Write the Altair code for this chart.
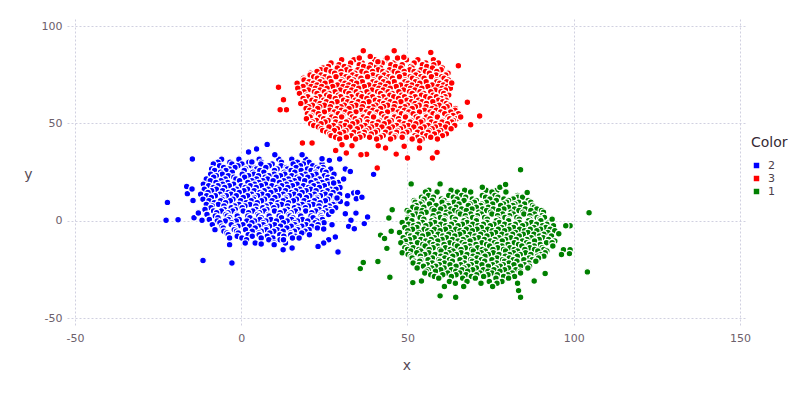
import altair as alt
import pandas as pd

series_names = ["2", "3", "1"]
series_colors = ["#0000ff", "#ff0000", "#008000"]
x_ticks = [-50, 0, 50, 100, 150]
y_ticks = [-50, 0, 50, 100]

blue_rows = [
    (31.6, [-5.9, -0.7, 5.4, 11.3, 15.2, 19.4]),
    (30.0, [-7.0, -3.4, 2.3, 6.0, 12.1, 16.9, 20.4]),
    (29.1, [-8.4, -2.8, 0.2, 5.9, 9.3, 15.6, 18.7, 24.3]),
    (28.2, [-6.5, -1.0, 3.0, 8.4, 12.0, 17.8, 21.5]),
    (27.3, [-5.3, -1.9, 4.2, 7.4, 13.6, 16.5, 22.8, 24.6]),
    (26.6, [-8.9, -3.6, 1.3, 4.6, 10.8, 13.9, 19.9, 23.3, 26.9]),
    (25.8, [-8.0, -4.6, 0.9, 5.6, 10.0, 15.0, 18.0, 21.0, 24.5]),
    (24.9, [-6.2, -2.7, 3.5, 6.8, 12.9, 16.1, 22.4, 25.5]),
    (23.9, [-9.2, -5.7, 0.3, 3.8, 9.9, 13.1, 19.3, 22.5, 27.9]),
    (23.1, [-7.5, -3.9, 2.2, 5.2, 8.3, 11.8, 15.2, 18.0, 21.2, 25.0]),
    (22.3, [-8.3, -2.2, 1.0, 7.2, 10.5, 16.8, 20.0, 26.1]),
    (21.4, [-10.5, -4.8, -1.6, 4.6, 7.9, 14.2, 17.4, 23.5, 27.3]),
    (20.6, [-9.3, -6.1, -0.5, 3.2, 6.5, 9.6, 12.8, 16.0, 19.1, 22.3, 25.8]),
    (19.7, [-7.6, -4.1, 2.0, 5.3, 11.5, 14.7, 21.0, 24.3, 29.2]),
    (18.8, [-11.4, -5.6, -2.3, 4.0, 7.3, 13.6, 16.8, 23.0, 26.4]),
    (18.0, [-9.8, -7.0, -3.6, 0.0, 2.7, 6.0, 9.2, 12.2, 15.4, 18.7, 21.8, 25.0, 28.0]),
    (17.1, [-8.4, -5.0, 1.2, 4.5, 10.8, 14.0, 20.2, 23.5, 29.7]),
    (16.2, [-11.1, -7.5, -1.4, 1.9, 8.1, 11.4, 17.6, 20.9, 27.0, 28.5]),
    (15.4, [-8.9, -5.6, -2.4, 0.8, 3.9, 6.9, 10.2, 13.3, 16.4, 19.5, 22.5, 25.9]),
    (14.5, [-10.0, -3.9, -0.6, 5.6, 8.9, 15.1, 18.3, 24.5, 27.6]),
    (13.6, [-12.2, -6.4, -3.1, 3.1, 6.3, 12.6, 15.9, 22.0, 25.3, 29.6]),
    (12.8, [-10.4, -7.8, -4.5, -1.5, 1.9, 4.9, 8.0, 11.1, 14.4, 17.5, 20.6, 23.8, 27.0]),
    (11.9, [-9.0, -5.6, 0.6, 3.9, 10.1, 13.4, 19.6, 22.8, 28.5]),
    (11.0, [-11.5, -5.8, -2.5, 3.7, 7.0, 13.3, 16.6, 22.7, 26.0, 29.4]),
    (10.2, [-9.7, -6.2, -3.3, -0.2, 3.0, 6.1, 9.3, 12.6, 15.7, 18.9, 22.0, 25.3]),
    (9.3, [-8.1, -4.7, 1.5, 4.8, 11.0, 14.2, 20.5, 23.7, 28.1]),
    (8.4, [-10.5, -6.9, -0.7, 2.6, 8.8, 12.1, 18.3, 21.6, 27.6]),
    (7.6, [-8.7, -5.2, -2.0, 1.1, 4.4, 7.5, 10.7, 13.9, 17.0, 20.2, 23.4, 26.5]),
    (6.7, [-9.1, -3.0, 0.3, 6.5, 9.8, 16.0, 19.3, 25.4, 28.4]),
    (5.8, [-10.9, -5.1, -1.8, 4.4, 7.7, 13.9, 17.2, 23.4, 26.7]),
    (5.0, [-8.3, -6.0, -2.6, 0.6, 3.5, 6.9, 10.0, 13.0, 16.3, 19.4, 22.4, 25.6]),
    (4.1, [-7.4, -4.0, 2.2, 5.5, 11.7, 15.0, 21.2, 24.6]),
    (3.2, [-10.3, -4.6, -1.3, 4.9, 8.2, 14.4, 17.7, 23.9, 26.3]),
    (2.4, [-7.8, -4.2, -1.2, 2.0, 5.3, 8.4, 11.4, 14.7, 17.9, 21.0, 24.0]),
    (1.5, [-7.0, -3.5, 2.6, 6.0, 12.1, 15.5, 21.6, 24.3]),
    (0.6, [-9.6, -3.9, -0.6, 5.6, 8.9, 15.1, 18.4, 24.4]),
    (-0.2, [-7.2, -4.8, -1.5, 1.7, 4.0, 7.4, 10.6, 13.8, 16.9, 20.0, 22.7]),
    (-1.1, [-6.4, -2.9, 3.2, 6.6, 12.7, 16.1, 22.2, 24.9]),
    (-2.0, [-8.7, -3.0, 0.5, 6.6, 10.0, 16.1, 19.5, 23.1]),
    (-2.8, [-5.8, -1.0, 2.5, 5.2, 8.5, 11.8, 15.0, 18.2, 21.2]),
    (-3.7, [-5.4, -2.0, 4.2, 7.5, 13.7, 17.0, 22.9]),
    (-4.6, [-7.9, -2.1, 1.3, 7.5, 10.8, 17.0, 20.4]),
    (-5.4, [-5.2, -1.4, 3.3, 6.0, 9.8, 12.6, 16.0, 19.2]),
    (-6.3, [-4.3, -0.9, 5.3, 8.6, 14.8, 18.2]),
    (-7.2, [-3.9, 2.1, 5.4, 11.6, 14.9, 20.5]),
    (-8.0, [-1.2, 3.3, 7.8, 12.8, 16.3]),
    (-8.9, [-3.5, 0.2, 6.0, 9.5, 15.4, 17.4]),
    (-9.8, [1.6, 8.3, 11.7]),
    (-11.5, [1.2, 4.2, 9.9, 13.3]),
]
blue_extra = [
    (-22.2, 9.4), (-22.6, 0.2), (-19.0, 0.5), (-14.7, 31.7), (-11.5, -20.4), (-2.8, -21.7), (-3.5, -12.3),
    (-16.4, 17.6), (-16.2, 13.9), (-14.8, 16.3), (-14.5, 10.4), (-14.2, 1.5), (-11.8, 0.2), (-12.9, 4.0),
    (2.2, 35.3), (4.6, 36.8), (7.8, 39.2), (3.2, 30.2), (10.1, 33.9), (18.3, 33.9), (24.3, 31.8), (29.6, 31.7),
    (26.5, 31.0), (31.3, 26.6), (32.8, 25.3), (30.8, 21.4), (33.8, 14.2), (35.0, 14.5), (34.6, 11.3), (32.0, 12.8),
    (31.8, 8.7), (31.3, 3.6), (34.5, 3.9), (38.0, 1.9), (33.0, 0.2), (32.3, -2.9), (34.0, -4.1), (27.3, -2.1),
    (24.8, -4.3), (28.3, -8.4), (26.3, -9.8), (24.8, -11.5), (23.1, -13.2), (29.1, -16.1), (15.3, -14.0),
    (12.6, -14.9), (9.9, -12.3), (12.7, -9.8), (6.0, -12.0), (36.3, 12.0), (39.8, 23.8), (37.0, -1.5),
    (29.8, 9.9), (28.8, 11.7), (27.8, 19.4), (27.3, 4.8),
]

red_rows = [
    (82.7, [30.2, 33.9, 40.1, 43.5, 49.7, 53.1, 57.8]),
    (81.0, [27.0, 32.9, 36.4, 42.4, 45.9, 52.0, 55.5, 59.3]),
    (80.1, [29.4, 35.5, 38.9, 45.0, 48.4, 54.5, 57.9]),
    (79.2, [26.2, 31.0, 36.8, 40.7, 46.4, 51.0, 55.8]),
    (78.4, [24.6, 28.9, 32.4, 38.5, 41.9, 48.0, 51.4, 57.5, 60.5]),
    (77.5, [23.9, 25.6, 31.7, 35.1, 41.2, 44.6, 50.7, 54.1, 60.1]),
    (76.7, [22.8, 27.0, 30.0, 33.0, 36.3, 39.5, 42.6, 46.0, 49.0, 52.0, 55.4, 58.8]),
    (75.8, [20.8, 28.1, 34.2, 37.6, 43.7, 47.1, 53.2, 56.6, 62.2]),
    (74.9, [20.7, 24.0, 30.1, 33.5, 39.6, 43.0, 49.1, 52.5, 58.6, 61.5]),
    (74.0, [21.8, 25.2, 28.5, 31.5, 34.8, 38.0, 41.2, 44.4, 47.6, 50.8, 54.0, 57.2, 60.3]),
    (73.2, [18.7, 22.9, 26.5, 32.5, 36.0, 42.0, 45.5, 51.5, 55.0, 61.0]),
    (72.3, [18.9, 24.3, 30.3, 33.8, 39.8, 43.3, 49.3, 52.8, 58.8, 62.3]),
    (71.4, [20.4, 23.7, 27.0, 30.0, 33.2, 36.4, 39.6, 42.8, 46.0, 49.2, 52.4, 55.6, 58.8, 61.8]),
    (70.6, [16.8, 21.7, 25.2, 31.2, 34.7, 40.7, 44.2, 50.2, 53.7, 59.7, 63.3]),
    (69.7, [19.6, 22.8, 28.9, 32.3, 38.4, 41.8, 47.9, 51.3, 57.4, 60.8]),
    (68.9, [18.6, 21.0, 24.2, 27.5, 30.6, 33.8, 37.0, 40.2, 43.4, 46.6, 49.8, 53.0, 56.1, 59.2, 62.0]),
    (68.0, [17.0, 22.3, 25.8, 31.9, 35.3, 41.4, 44.8, 50.9, 54.3, 60.4, 62.9]),
    (67.1, [20.2, 23.7, 29.8, 33.2, 39.3, 42.7, 48.8, 52.2, 58.3, 61.4]),
    (66.3, [18.9, 22.0, 25.0, 28.2, 31.4, 34.6, 37.8, 41.0, 44.2, 47.4, 50.6, 53.8, 57.0, 60.1]),
    (65.4, [17.5, 22.8, 26.4, 32.4, 35.9, 41.9, 45.4, 51.4, 54.9, 60.9]),
    (64.5, [19.7, 25.7, 29.2, 35.2, 38.7, 44.7, 48.2, 54.2, 57.7, 62.4]),
    (63.7, [20.0, 23.6, 26.6, 29.9, 33.1, 36.3, 39.5, 42.7, 45.9, 49.1, 52.3, 55.5, 58.7, 61.3]),
    (62.8, [18.6, 22.3, 28.3, 31.8, 37.8, 41.3, 47.3, 50.8, 56.8, 60.2]),
    (61.9, [21.3, 24.8, 30.8, 34.3, 40.3, 43.8, 49.8, 53.3, 59.3, 61.6]),
    (61.1, [19.2, 22.4, 25.6, 28.8, 32.0, 35.2, 38.4, 41.6, 44.8, 48.0, 51.2, 54.4, 57.6, 60.6]),
    (60.2, [17.9, 23.7, 27.2, 33.3, 36.7, 42.8, 46.2, 52.3, 55.7, 61.7]),
    (59.3, [21.4, 25.0, 31.0, 34.5, 40.5, 44.0, 50.0, 53.5, 59.5, 62.6]),
    (58.5, [20.3, 23.6, 26.8, 30.0, 33.2, 36.4, 39.6, 42.8, 46.0, 49.2, 52.4, 55.6, 58.2, 61.9]),
    (57.6, [19.5, 23.0, 28.9, 32.4, 38.4, 41.9, 47.9, 51.4, 57.4, 60.9, 64.4]),
    (56.7, [20.6, 26.6, 30.1, 36.1, 39.6, 45.6, 49.1, 55.1, 58.6, 64.3]),
    (55.9, [21.8, 25.0, 28.0, 31.3, 34.5, 37.6, 40.9, 44.0, 47.2, 50.4, 53.6, 56.8, 60.0, 63.0]),
    (55.0, [19.9, 23.2, 29.2, 32.7, 38.7, 42.2, 48.2, 51.7, 57.7, 61.2, 65.3]),
    (54.1, [21.0, 27.0, 30.5, 36.5, 40.0, 46.0, 49.5, 55.5, 59.0, 63.7]),
    (53.3, [20.7, 23.8, 27.2, 30.2, 33.4, 36.7, 39.8, 43.0, 46.1, 49.4, 52.6, 55.7, 59.0, 62.2]),
    (52.4, [19.6, 24.8, 28.3, 34.3, 37.8, 43.8, 47.3, 53.3, 56.8, 62.7, 64.8]),
    (51.5, [22.6, 26.1, 32.1, 35.6, 41.6, 45.1, 51.1, 54.6, 60.6, 63.8]),
    (50.7, [21.4, 25.2, 28.4, 31.6, 34.8, 38.0, 41.2, 44.4, 47.6, 50.8, 54.0, 57.2, 60.4, 63.3]),
    (49.8, [20.9, 24.0, 30.0, 33.5, 39.5, 43.0, 49.0, 52.5, 58.5, 62.0]),
    (48.9, [21.8, 27.7, 31.2, 37.2, 40.7, 46.7, 50.2, 56.2, 59.7, 64.2]),
    (48.1, [23.2, 26.4, 29.6, 32.7, 36.0, 39.2, 42.3, 45.5, 48.8, 51.9, 55.0, 58.4, 61.4]),
    (47.2, [24.1, 28.9, 34.9, 38.4, 44.4, 47.9, 53.9, 57.4, 63.1]),
    (46.3, [24.5, 28.0, 31.5, 37.5, 41.0, 47.0, 50.5, 56.5, 60.0]),
    (45.5, [25.7, 30.8, 33.9, 37.0, 40.3, 43.4, 46.7, 49.8, 53.0, 56.2, 59.3]),
    (44.6, [26.6, 29.6, 35.6, 39.1, 45.1, 48.6, 54.6, 58.1, 61.7]),
    (43.7, [27.0, 33.1, 36.7, 42.7, 46.2, 52.2, 55.7, 60.5]),
    (42.9, [28.4, 31.6, 35.7, 38.6, 41.8, 45.9, 48.4, 53.0, 57.0]),
    (42.0, [29.6, 34.4, 40.7, 44.9, 51.4, 54.4, 59.0]),
]
red_extra = [
    (36.7, 87.3), (46.0, 87.3), (57.0, 86.4), (35.5, 83.6), (38.8, 84.4), (43.9, 83.6), (47.0, 83.6),
    (48.9, 84.0), (41.1, 81.7), (65.3, 79.6), (63.3, 70.7), (11.2, 68.5), (12.7, 62.1), (13.6, 57.0),
    (11.7, 57.0), (68.0, 60.8), (66.0, 53.3), (71.7, 53.8), (69.0, 49.3), (53.7, 41.1), (53.6, 37.3),
    (49.0, 38.2), (43.4, 37.3), (41.2, 38.5), (33.3, 38.5), (28.4, 36.1), (36.2, 34.1), (37.7, 34.1),
    (46.6, 34.2), (50.0, 32.2), (57.5, 32.2), (58.9, 35.1), (30.3, 39.0), (31.6, 34.8), (36.0, 33.9),
    (40.9, 27.1), (18.4, 39.9), (21.3, 39.9),
]

green_rows = [
    (15.6, [56.4, 63.1, 67.2, 73.6, 76.9]),
    (14.7, [55.4, 58.9, 65.0, 69.0, 75.4, 79.6]),
    (13.0, [56.3, 62.4, 66.3, 72.5, 76.3, 83.1]),
    (12.1, [54.2, 57.8, 63.8, 67.5, 73.5, 77.2, 83.2, 84.6]),
    (11.2, [55.0, 60.2, 64.9, 69.5, 74.8, 79.0, 81.8]),
    (10.4, [52.0, 57.4, 61.0, 67.0, 70.7, 76.7, 80.4, 86.3]),
    (9.5, [52.3, 54.3, 60.4, 64.0, 70.1, 73.7, 79.8, 83.4, 87.1]),
    (8.6, [53.8, 56.6, 62.2, 65.5, 68.8, 72.3, 75.6, 78.9, 82.3, 85.2]),
    (7.8, [52.6, 58.6, 62.3, 68.3, 72.0, 78.0, 81.7, 87.6]),
    (6.9, [51.6, 54.9, 61.0, 64.6, 70.7, 74.3, 80.4, 84.0, 88.1]),
    (6.0, [52.8, 57.4, 60.0, 63.0, 66.3, 69.4, 72.6, 75.8, 79.0, 82.2, 85.4, 88.9]),
    (5.2, [49.9, 54.4, 58.0, 64.1, 67.7, 73.8, 77.4, 83.5, 87.1, 90.3]),
    (4.3, [50.5, 55.6, 61.7, 65.3, 71.4, 75.0, 81.1, 84.7, 90.9]),
    (3.4, [52.6, 54.2, 59.4, 62.7, 65.9, 69.0, 72.2, 75.4, 78.6, 81.8, 85.0, 88.2]),
    (2.6, [51.4, 57.7, 61.3, 67.4, 71.0, 77.1, 80.7, 86.8, 90.4]),
    (1.7, [50.1, 53.8, 59.9, 63.5, 69.6, 73.2, 79.3, 82.9, 89.0, 91.2]),
    (0.8, [50.0, 54.9, 58.0, 61.2, 64.4, 67.6, 70.8, 74.0, 77.2, 80.4, 83.6, 86.8, 89.8]),
    (0.0, [51.3, 57.3, 61.0, 67.0, 70.7, 76.7, 80.4, 86.4, 90.1, 93.1]),
    (-0.9, [48.4, 54.5, 58.2, 64.2, 67.9, 73.9, 77.6, 83.6, 87.3, 92.4]),
    (-1.8, [50.3, 53.2, 56.8, 60.0, 63.2, 66.5, 69.6, 72.8, 76.0, 79.2, 82.4, 85.6, 88.8, 91.9]),
    (-2.6, [51.8, 55.5, 61.5, 65.2, 71.2, 74.9, 80.9, 84.6, 90.6, 93.9]),
    (-3.5, [49.2, 52.8, 58.9, 62.5, 68.6, 72.2, 78.3, 81.9, 88.0, 91.6]),
    (-4.4, [51.5, 55.0, 58.1, 61.4, 64.5, 67.7, 70.9, 74.1, 77.3, 80.5, 83.7, 86.9, 90.0, 92.9]),
    (-5.2, [50.1, 56.1, 59.8, 65.8, 69.5, 75.5, 79.2, 85.2, 88.9, 94.3]),
    (-6.1, [47.6, 53.4, 57.1, 63.1, 66.8, 72.8, 76.5, 82.5, 86.2, 92.2]),
    (-7.0, [50.0, 53.0, 56.2, 59.2, 62.4, 65.7, 68.8, 72.0, 75.2, 78.4, 81.6, 84.8, 88.0, 91.0]),
    (-7.8, [50.9, 54.5, 60.6, 64.2, 70.3, 73.9, 80.0, 83.6, 89.7, 93.3]),
    (-8.7, [48.7, 52.0, 58.1, 61.7, 67.8, 71.4, 77.5, 81.1, 87.2, 90.8]),
    (-9.6, [50.6, 54.0, 57.1, 60.4, 63.5, 66.7, 69.9, 73.1, 76.3, 79.5, 82.7, 85.9, 89.6, 92.4]),
    (-10.4, [49.4, 55.5, 59.1, 65.2, 68.8, 74.9, 78.5, 84.6, 88.2, 94.3]),
    (-11.3, [48.0, 53.0, 56.7, 62.7, 66.4, 72.4, 76.1, 82.1, 85.8, 91.8, 93.5]),
    (-12.2, [51.0, 54.6, 57.8, 61.0, 64.2, 67.3, 70.6, 73.8, 77.0, 80.2, 83.4, 86.6, 89.9]),
    (-13.0, [49.6, 55.3, 59.0, 65.0, 68.7, 74.7, 78.4, 84.4, 88.1, 93.7]),
    (-13.9, [49.2, 51.7, 57.7, 61.4, 67.4, 71.1, 77.1, 80.8, 86.8, 90.5]),
    (-14.8, [50.0, 53.4, 56.5, 59.7, 62.9, 66.1, 69.3, 72.5, 75.7, 78.9, 82.1, 85.3, 88.2, 91.0]),
    (-15.6, [51.0, 54.0, 60.1, 63.7, 69.8, 73.4, 79.5, 83.1, 89.2, 91.9]),
    (-16.5, [48.4, 52.8, 56.4, 62.5, 66.1, 72.2, 75.8, 81.9, 85.5, 91.4]),
    (-17.4, [50.2, 55.2, 58.3, 61.5, 64.7, 67.9, 71.1, 74.3, 77.5, 80.7, 83.9, 87.1, 90.0]),
    (-18.2, [51.1, 53.9, 60.0, 63.6, 69.7, 73.3, 79.4, 83.0, 89.1, 91.0]),
    (-19.1, [51.4, 57.5, 61.2, 67.2, 70.9, 76.9, 80.6, 86.6, 89.4]),
    (-20.0, [54.0, 56.2, 59.4, 62.6, 65.8, 69.0, 72.2, 75.4, 78.6, 81.8, 85.0, 87.5]),
    (-20.8, [52.1, 53.7, 59.8, 63.5, 69.5, 73.2, 79.2, 82.9, 88.6]),
    (-21.7, [51.7, 57.4, 61.1, 67.1, 70.8, 76.8, 80.5, 86.5]),
    (-22.6, [53.5, 56.0, 59.6, 62.8, 66.0, 69.2, 72.4, 75.6, 78.8, 82.0, 85.2]),
    (-23.4, [54.8, 58.5, 64.6, 68.2, 74.3, 77.9, 84.0, 86.7]),
    (-24.3, [52.9, 57.3, 61.0, 67.0, 70.7, 76.7, 80.4, 86.2]),
    (-25.2, [56.2, 60.0, 63.2, 66.4, 69.6, 72.8, 76.0, 79.2, 82.6]),
    (-26.0, [55.6, 58.4, 64.5, 68.1, 74.2, 77.8, 83.9]),
    (-26.9, [55.2, 62.1, 65.7, 71.8, 75.4, 81.5, 84.0]),
    (-27.8, [57.0, 60.6, 64.6, 67.6, 70.8, 74.2, 77.0, 80.2]),
    (-28.6, [58.1, 63.2, 69.2, 72.9, 78.9, 82.2]),
    (-29.5, [59.4, 66.6, 70.4, 76.6, 80.4]),
    (-31.2, [62.6, 67.9, 74.6, 78.4]),
    (-32.1, [64.4, 72.1, 76.9, 83.1]),
    (-33.8, [61.1, 66.9, 75.6]),
]
green_extra = [
    (84.0, 26.2), (51.1, 18.9), (59.8, 18.9), (72.5, 17.2), (77.8, 17.2), (79.5, 18.6), (86.0, 14.5),
    (45.4, 5.6), (44.4, 1.4), (45.1, -5.4), (41.9, -7.4), (43.1, -9.1), (43.8, -14.2), (41.1, -21.0),
    (36.7, -21.5), (35.8, -24.6), (44.7, -29.0), (104.6, 4.1), (104.1, -26.3), (98.9, -2.6), (97.6, -2.6),
    (95.5, -6.7), (93.5, 0.8), (96.9, -14.9), (98.9, -14.9), (98.7, -16.9), (96.3, -17.4), (91.4, -27.1),
    (88.1, -31.0), (84.0, -39.3), (83.4, -35.9), (64.5, -39.3), (59.8, -38.6), (51.6, -31.8), (54.2, -31.0),
]

records = []
for name, dense, extra in [("2", blue_rows, blue_extra), ("3", red_rows, red_extra), ("1", green_rows, green_extra)]:
    for yv, xs in dense:
        for xv in xs:
            records.append({"x": xv, "y": yv, "Color": name})
    for xv, yv in extra:
        records.append({"x": xv, "y": yv, "Color": name})
df = pd.DataFrame(records)

FONT = "DejaVu Sans"

chart = alt.Chart(df).mark_circle(
    size=44, opacity=1, stroke="white", strokeWidth=1.2
).encode(
    x=alt.X("x:Q",
            scale=alt.Scale(domain=[-52.4, 151.8], nice=False, zero=False),
            axis=alt.Axis(values=x_ticks, title="x", titleX=339.5, titleY=42,
                          labelExpr="datum.value + ''",
                          titleBaseline="alphabetic", titleAlign="center")),
    y=alt.Y("y:Q",
            scale=alt.Scale(domain=[-54.6, 103.6], nice=False, zero=False),
            axis=alt.Axis(values=y_ticks, title="y", titleAngle=0, titleX=-39, titleY=159,
                          labelExpr="datum.value + ''",
                          titleBaseline="alphabetic", titleAlign="center")),
    color=alt.Color("Color:N",
                    scale=alt.Scale(domain=series_names, range=series_colors),
                    legend=alt.Legend(title="Color", orient="none", legendX=684, legendY=117,
                                      symbolType="square", symbolSize=30, symbolStrokeWidth=0,
                                      symbolOpacity=1, labelFontSize=11, titleFontSize=14,
                                      titleFont=FONT, labelFont=FONT, titleColor="#362a35",
                                      labelColor="#4c404b", titleFontWeight="normal",
                                      titlePadding=10, rowPadding=1, labelOffset=6)),
).properties(
    width=679, height=308,
    autosize=alt.AutoSizeParams(type="none"),
    padding={"left": 59, "top": 11, "right": 45, "bottom": 50},
).configure_view(
    stroke=None
).configure_axis(
    domain=False, ticks=False, grid=True, gridColor="#d0d0e0", gridDash=[2, 2], gridWidth=1,
    labelFont=FONT, labelFontSize=11, labelColor="#6c606b", labelPadding=5,
    titleFont=FONT, titleFontSize=14, titleColor="#564a55", titleFontWeight="normal",
)

chart.save("out.html", embed_options={"renderer": "svg", "actions": False})
